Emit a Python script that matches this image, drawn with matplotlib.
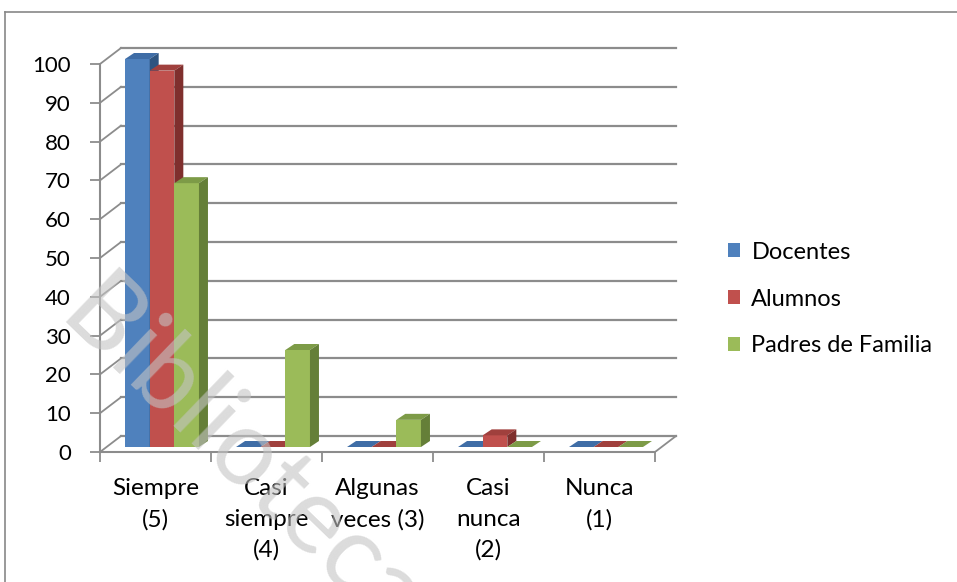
import matplotlib
matplotlib.use('Agg')
import matplotlib.pyplot as plt
from matplotlib.patches import Polygon, Patch
import numpy as np

plt.rcParams['font.family'] = ['Lato', 'DejaVu Sans']

# data
categorias = ["Siempre\n(5)", "Casi\nsiempre\n(4)", "Algunas\nveces (3)", "Casi\nnunca\n(2)", "Nunca\n(1)"]
series = ["Docentes", "Alumnos", "Padres de Familia"]
docentes = [100, 0, 0, 0, 0]
alumnos = [97, 0, 0, 3, 0]
padres = [68, 25, 7, 0, 0]
valores = [docentes, alumnos, padres]
yticks = list(range(0, 101, 10))

front_col = ['#4F81BD', '#C0504D', '#9BBB59']
top_col = ['#3F6DA6', '#A0403D', '#7D9B47']
side_col = ['#2E5480', '#7F2F2D', '#657F38']
grid_col = '#8c8c8c'

# scale of the front plane in pixels per data unit
sx, sy = 111.0, 3.88
wall_dx, wall_dy = 21 / sx, 16 / sy      # depth of the floor / walls
bar_fx, bar_fy = 6.5 / sx, 5 / sy        # where the bar fronts sit
bar_dx, bar_dy = 9 / sx, 6 / sy          # depth of each bar
w = 0.222

fig = plt.figure(figsize=(9.57, 5.82), dpi=100)
xmax, ymax = 5.25, 105
ax = fig.add_axes([100 / 957, (582 - 452) / 582, xmax * sx / 957, ymax * sy / 582])
ax.set_xlim(0, xmax)
ax.set_ylim(0, ymax)
ax.patch.set_visible(False)

# back wall gridlines and left wall diagonals
n = len(categorias)
for v in yticks:
    ax.plot([wall_dx, n + wall_dx], [v + wall_dy, v + wall_dy], color=grid_col, lw=1.6, zorder=1)
    ax.plot([0, wall_dx], [v, v + wall_dy], color=grid_col, lw=1.3, zorder=1)
ax.plot([n, n + wall_dx], [0, wall_dy], color=grid_col, lw=1.3, zorder=1)

# bars: front face via ax.bar, top and side faces as polygons
x = np.arange(n)
for j, vals in enumerate(valores):
    left = x + 0.5 - 1.5 * w + j * w + bar_fx
    bars = ax.bar(left, vals, width=w, bottom=bar_fy, align='edge',
                  color=front_col[j], linewidth=0)
    for i, (b, v) in enumerate(zip(bars, vals)):
        z = 2 + (i * 3 + j) * 0.01
        b.set_zorder(z)
        if v == 0:
            b.set_visible(False)
        x0, x1 = left[i], left[i] + w
        y1 = bar_fy + v
        top = Polygon([(x0, y1), (x1, y1), (x1 + bar_dx, y1 + bar_dy), (x0 + bar_dx, y1 + bar_dy)],
                      closed=True, facecolor=top_col[j], edgecolor='none', zorder=z)
        ax.add_patch(top)
        if v > 0:
            side = Polygon([(x1, bar_fy), (x1 + bar_dx, bar_fy + bar_dy),
                            (x1 + bar_dx, y1 + bar_dy), (x1, y1)],
                           closed=True, facecolor=side_col[j], edgecolor='none', zorder=z)
            ax.add_patch(side)

# axes, ticks and labels
for s in ['top', 'right']:
    ax.spines[s].set_visible(False)
ax.spines['left'].set_bounds(0, 100)
ax.spines['bottom'].set_bounds(0, n)
for s in ['left', 'bottom']:
    ax.spines[s].set_color(grid_col)
    ax.spines[s].set_linewidth(1.5)
    ax.spines[s].set_zorder(1.5)

ax.set_yticks(yticks)
ax.set_yticklabels([str(t) for t in yticks])
ax.set_xticks(np.arange(n + 1))
ax.set_xticklabels([])
ax.set_xticks(x + 0.5, minor=True)
ax.set_xticklabels(categorias, minor=True)
ax.tick_params(axis='both', which='major', length=7, width=1.3, color=grid_col,
               direction='out', labelsize=16, labelcolor='black')
ax.tick_params(axis='y', pad=14)
ax.tick_params(axis='x', which='minor', length=0, pad=19, labelsize=17.5)
plt.setp(ax.get_xticklabels(minor=True), linespacing=1.55, multialignment='center')

# legend
handles = [Patch(facecolor=c, edgecolor='none') for c in front_col]
fig.legend(handles, series, loc='center left', bbox_to_anchor=(728 / 957, 1 - 299 / 582),
           frameon=False, fontsize=17, handlelength=0.51, handleheight=0.51,
           handletextpad=0.48, labelspacing=1.1, borderpad=0, borderaxespad=0)

# outer chart frame
fig.add_artist(plt.Line2D([5 / 957, 1], [1 - 12 / 582, 1 - 12 / 582], color='#888888', lw=1.2))
fig.add_artist(plt.Line2D([5 / 957, 5 / 957], [0, 1 - 12 / 582], color='#888888', lw=1.2))

# watermark
fig.text(76 / 957, 1 - 300 / 582, 'Biblioteca', rotation=-44, rotation_mode='anchor',
         ha='left', va='center', fontsize=76, color='#c4c4c4', alpha=0.6, zorder=10)

fig.savefig('out.png', dpi=100)
